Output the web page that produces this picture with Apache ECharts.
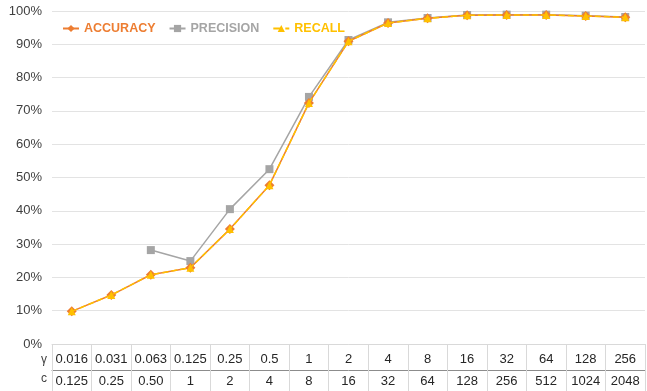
<!DOCTYPE html>
<html><head><meta charset="utf-8">
<script src="https://cdn.jsdelivr.net/npm/echarts@6/dist/echarts.min.js"></script>
<style>html,body{margin:0;padding:0;background:#fff}#c{width:647px;height:391px}</style>
</head><body><div id="c"></div>
<script>
const gammaLabels = ['0.016','0.031','0.063','0.125','0.25','0.5','1','2','4','8','16','32','64','128','256'];
const cLabels = ['0.125','0.25','0.50','1','2','4','8','16','32','64','128','256','512','1024','2048'];
const accuracy = [9.8,14.7,20.8,22.9,34.5,47.7,72.4,90.9,96.4,97.8,98.7,98.8,98.8,98.5,98.1];
const precision = [null,null,28.2,24.9,40.5,52.5,74.2,91.3,96.6,97.9,98.8,98.9,98.9,98.6,98.2];
const recall = [9.8,14.7,20.8,22.9,34.5,47.7,72.4,90.9,96.4,97.8,98.7,98.8,98.8,98.5,98.1];
const yTicks = {min:0, max:100, interval:10};

const font = 'Liberation Sans, Arial, sans-serif';
const chart = echarts.init(document.getElementById('c'));
const legendText = (c) => ({color:c,fontWeight:'bold',fontSize:12.5,fontFamily:font});
chart.setOption({
  animation:false,
  textStyle:{fontFamily:font},
  grid:{left:52,right:2,top:11,bottom:47,containLabel:false},
  legend:{
    left:57, top:17, itemWidth:16, itemHeight:9, itemGap:13,
    textStyle:{fontFamily:font,fontSize:12.5,fontWeight:'bold'},
    data:[
      {name:'ACCURACY',textStyle:legendText('#ED7D31')},
      {name:'PRECISION',textStyle:legendText('#A5A5A5')},
      {name:'RECALL',textStyle:legendText('#FFC000')}
    ]
  },
  xAxis:[
    {type:'category',data:gammaLabels,position:'bottom',boundaryGap:true,
     axisLine:{show:true,lineStyle:{color:'#d9d9d9',width:1}},
     axisTick:{show:true,length:26,lineStyle:{color:'#d9d9d9'}},
     axisLabel:{margin:9,color:'#262626',fontSize:13,fontFamily:font,interval:0},
     name:'γ',nameLocation:'start',nameGap:5,
     nameTextStyle:{color:'#404040',fontSize:12,verticalAlign:'top',padding:[10,0,0,0],fontFamily:font}},
    {type:'category',data:cLabels,position:'bottom',offset:26,boundaryGap:true,
     axisLine:{show:true,lineStyle:{color:'#8c8c8c',width:1}},
     axisTick:{show:true,length:21,lineStyle:{color:'#d9d9d9'}},
     axisLabel:{margin:5,color:'#262626',fontSize:13,fontFamily:font,interval:0},
     name:'c',nameLocation:'start',nameGap:5,
     nameTextStyle:{color:'#404040',fontSize:12,verticalAlign:'top',padding:[3,0,0,0],fontFamily:font}}
  ],
  yAxis:{type:'value',min:yTicks.min,max:yTicks.max,interval:yTicks.interval,
    axisLine:{show:false},axisTick:{show:false},
    splitLine:{lineStyle:{color:'#e3e3e3',width:1}},
    axisLabel:{formatter:'{value}%',color:'#404040',fontSize:13,margin:10,fontFamily:font}},
  series:[
    {name:'ACCURACY',type:'line',data:accuracy,symbol:'diamond',symbolSize:10,
     itemStyle:{color:'#ED7D31'},lineStyle:{color:'#ED7D31',width:1.5},z:2},
    {name:'PRECISION',type:'line',data:precision,symbol:'rect',symbolSize:8,
     itemStyle:{color:'#A5A5A5'},lineStyle:{color:'#A5A5A5',width:1.5},z:1},
    {name:'RECALL',type:'line',data:recall,symbol:'triangle',symbolSize:8,
     itemStyle:{color:'#FFC000'},lineStyle:{color:'#FFC000',width:1.5,type:'dashed'},z:3}
  ]
});
</script></body></html>
